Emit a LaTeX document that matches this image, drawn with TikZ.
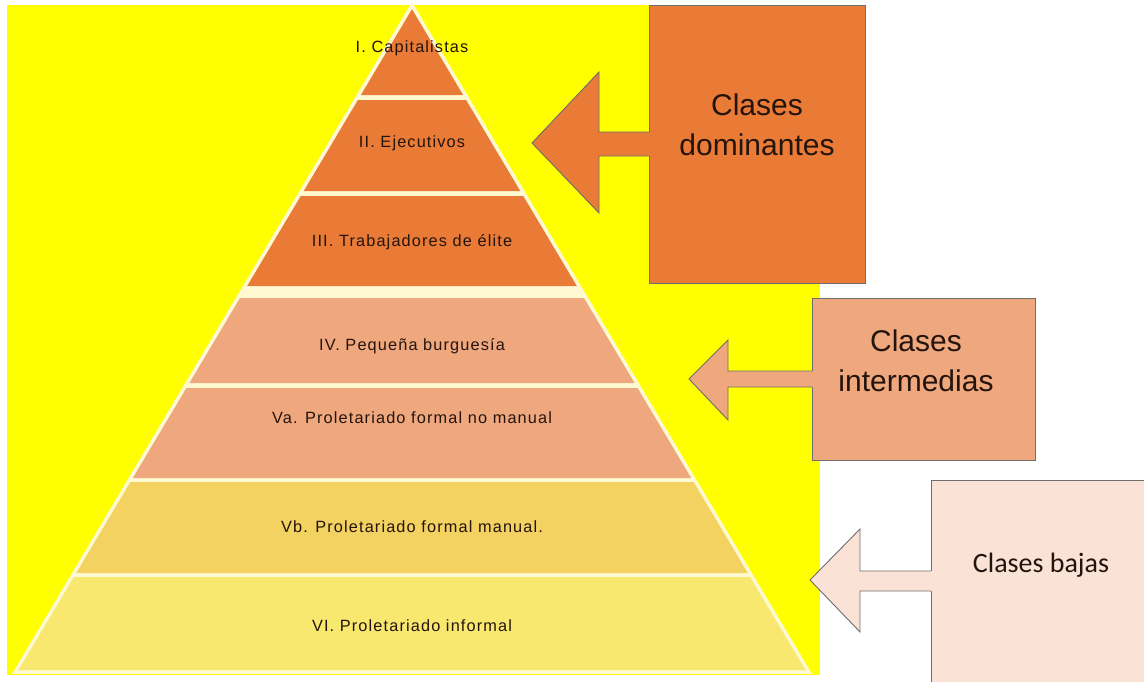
\documentclass[tikz,border=0pt]{standalone}
\usepackage{fontspec}
\setmainfont{Liberation Sans}
\newfontfamily\labfont[LetterSpace=7]{Liberation Sans}
\newfontfamily\calfont{Carlito}
\definecolor{bgyellow}{HTML}{FFFF00}
\definecolor{cream}{HTML}{FFF9D2}
\definecolor{orangeband}{HTML}{EA7B36}
\definecolor{salmon}{HTML}{EFA77D}
\definecolor{ochre}{HTML}{F4D262}
\definecolor{lightyel}{HTML}{F8E870}
\definecolor{pinkbox}{HTML}{FAE2D6}
\definecolor{txt}{HTML}{24140E}
\definecolor{boxline}{HTML}{6E6E6E}
\newcommand{\pyrband}[6]{%
  \pgfmathsetmacro{\pbLT}{412-0.5955*(#1-5)+2.5}%
  \pgfmathsetmacro{\pbRT}{412+0.5955*(#1-5)-2.5}%
  \pgfmathsetmacro{\pbLB}{412-0.5955*(#2-5)+2.5}%
  \pgfmathsetmacro{\pbRB}{412+0.5955*(#2-5)-2.5}%
  \fill[#3] (\pbLT,#1) -- (\pbRT,#1) -- (\pbRB,#2) -- (\pbLB,#2) -- cycle;%
  \node[lab] (#4) at (412,#5) {#6};%
}
\begin{document}
\begin{tikzpicture}[x=1pt,y=-1pt,
  lab/.style={font=\labfont\fontsize{16.3}{18}\selectfont, text=txt, inner sep=0pt},
  bigtxt/.style={font=\fontsize{30}{40}\selectfont, text=txt, align=center, inner sep=0pt},
  classbox/.style={draw=boxline, line width=1pt},
  blockarrow/.style={draw=boxline, line width=0.9pt, line join=miter}
]
\useasboundingbox (0,0) rectangle (1144,681);
\fill[white] (0,0) rectangle (1144,681);
% yellow background
\fill[bgyellow] (7,5) rectangle (820,675);
% pyramid base (cream outline / gaps)
\fill[cream] (412,2) -- (812,674) -- (12,674) -- cycle;
% bands
\pyrband{9}{95}{orangeband}{capi}{48}{I. Capitalistas}
\pyrband{100}{191}{orangeband}{ejec}{143}{II. Ejecutivos}
\pyrband{196}{286}{orangeband}{elite}{242}{III. Trabajadores de élite}
\pyrband{298}{383}{salmon}{pequ}{346}{IV. Pequeña burguesía}
\pyrband{388}{478}{salmon}{pfnm}{418}{Va. Proletariado formal no manual}
\pyrband{482}{573}{ochre}{pfm}{527}{Vb. Proletariado formal manual.}
\pyrband{577}{670}{lightyel}{pinf}{626}{VI. Proletariado informal}

% Clases dominantes
\node[classbox, fill=orangeband, minimum width=216pt, minimum height=278pt, anchor=north west, inner sep=0pt] (dom) at (649,5) {};
\fill[orangeband] (652,132) -- (599,132) -- (599,72) -- (532,143) -- (599,213) -- (599,156) -- (652,156) -- cycle;
\draw[blockarrow] (dom.west |- 0,132) -- (599,132) -- (599,72) -- (532,143) -- (599,213) -- (599,156) -- (dom.west |- 0,156);
\node[bigtxt] (domt) at (757,125) {Clases\\dominantes};

% Clases intermedias
\node[classbox, fill=salmon, minimum width=223pt, minimum height=162pt, anchor=north west, inner sep=0pt] (inter) at (812,298) {};
\fill[salmon] (815,371) -- (728,371) -- (728,340) -- (689,379) -- (728,420) -- (728,387) -- (815,387) -- cycle;
\draw[blockarrow] (inter.west |- 0,371) -- (728,371) -- (728,340) -- (689,379) -- (728,420) -- (728,387) -- (inter.west |- 0,387);
\node[bigtxt] (intert) at (916,361) {Clases\\intermedias};

% Clases bajas
\node[classbox, fill=pinkbox, minimum width=240pt, minimum height=230pt, anchor=north west, inner sep=0pt] (baj) at (931,480) {};
\fill[pinkbox] (934,571) -- (860,571) -- (860,529) -- (810,580) -- (860,632) -- (860,591) -- (934,591) -- cycle;
\draw[blockarrow] (baj.west |- 0,571) -- (860,571) -- (860,529) -- (810,580) -- (860,632) -- (860,591) -- (baj.west |- 0,591);
\node[font=\calfont\fontsize{28}{32}\selectfont, text=txt, inner sep=0pt] (bajt) at (1041,565) {Clases bajas};
\end{tikzpicture}
\end{document}
